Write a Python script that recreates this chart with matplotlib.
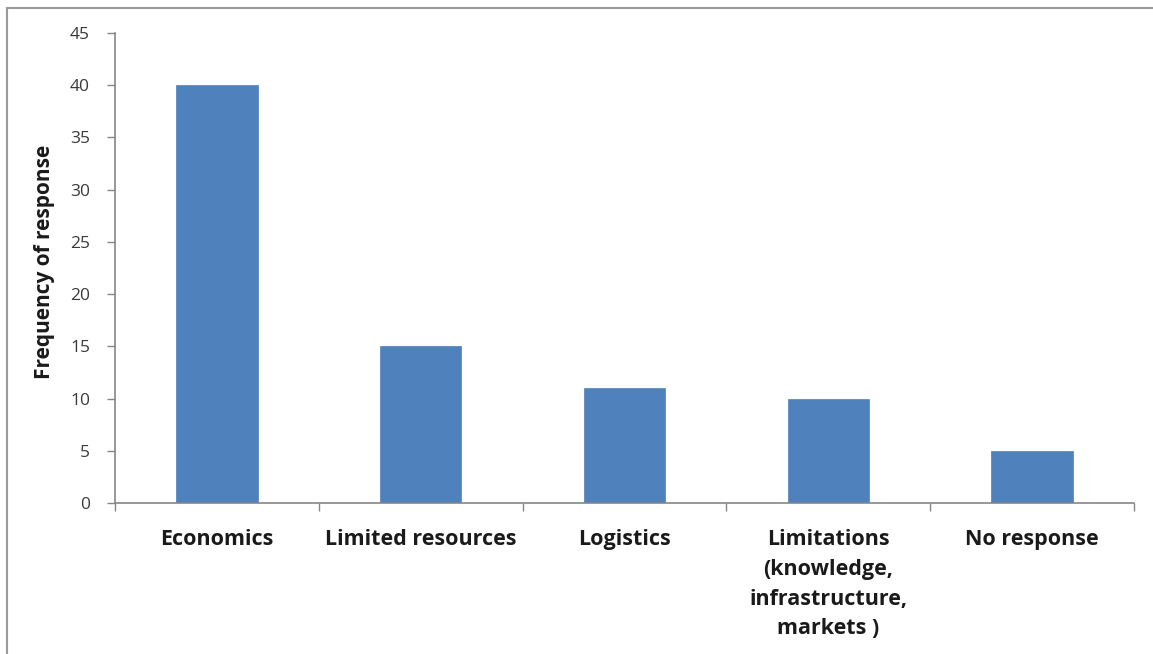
import matplotlib
matplotlib.use("Agg")
import matplotlib.pyplot as plt
from matplotlib.lines import Line2D

categories = [
    "Economics",
    "Limited resources",
    "Logistics",
    "Limitations\n(knowledge,\ninfrastructure,\nmarkets )",
    "No response",
]
frequency = [40, 15, 11, 10, 5]
y_ticks = [0, 5, 10, 15, 20, 25, 30, 35, 40, 45]

BAR_COLOR = "#4F81BD"
AXIS_COLOR = "#868686"
FONT = "Open Sans"

fig = plt.figure(figsize=(11.53, 6.54), dpi=100)
ax = fig.add_axes([0.0997, 0.2309, 0.8838, 0.7186])

x = list(range(len(categories)))
ax.bar(x, frequency, width=0.4, color=BAR_COLOR, edgecolor=BAR_COLOR, linewidth=0.5)

ax.set_xlim(-0.5, len(categories) - 0.5)
ax.set_ylim(0, 45)
ax.set_yticks(y_ticks)
ax.set_yticklabels([str(v) for v in y_ticks], fontsize=12.5, family=FONT, color="#3a3a3a")

# Category ticks sit at the boundaries between bars
ax.set_xticks([i - 0.5 for i in range(len(categories) + 1)])
ax.set_xticklabels([])
ax.tick_params(axis="x", direction="out", length=6, width=1, color=AXIS_COLOR)
ax.tick_params(axis="y", direction="out", length=6, width=1, color=AXIS_COLOR, pad=12)

for i, label in enumerate(categories):
    ax.text(i, -0.056, label, transform=ax.get_xaxis_transform(), ha="center", va="top",
            fontsize=15.5, fontweight="bold", family=FONT, color="#1a1a1a", linespacing=1.54)

for side in ("top", "right"):
    ax.spines[side].set_visible(False)
for side in ("left", "bottom"):
    ax.spines[side].set_color(AXIS_COLOR)
    ax.spines[side].set_linewidth(1.2)

fig.text(45 / 1153, 1 - 262 / 654, "Frequency of response", rotation=90, ha="center", va="center",
         fontsize=15, fontweight="bold", family=FONT, color="#1a1a1a")

# Chart frame: top and left edges
fig.add_artist(Line2D([7 / 1153, 1], [1 - 8 / 654, 1 - 8 / 654], transform=fig.transFigure,
                      color="#9a9a9a", linewidth=1.5))
fig.add_artist(Line2D([7 / 1153, 7 / 1153], [0, 1 - 8 / 654], transform=fig.transFigure,
                      color="#9a9a9a", linewidth=1.5))

fig.savefig("out.png", dpi=100, facecolor="white")
